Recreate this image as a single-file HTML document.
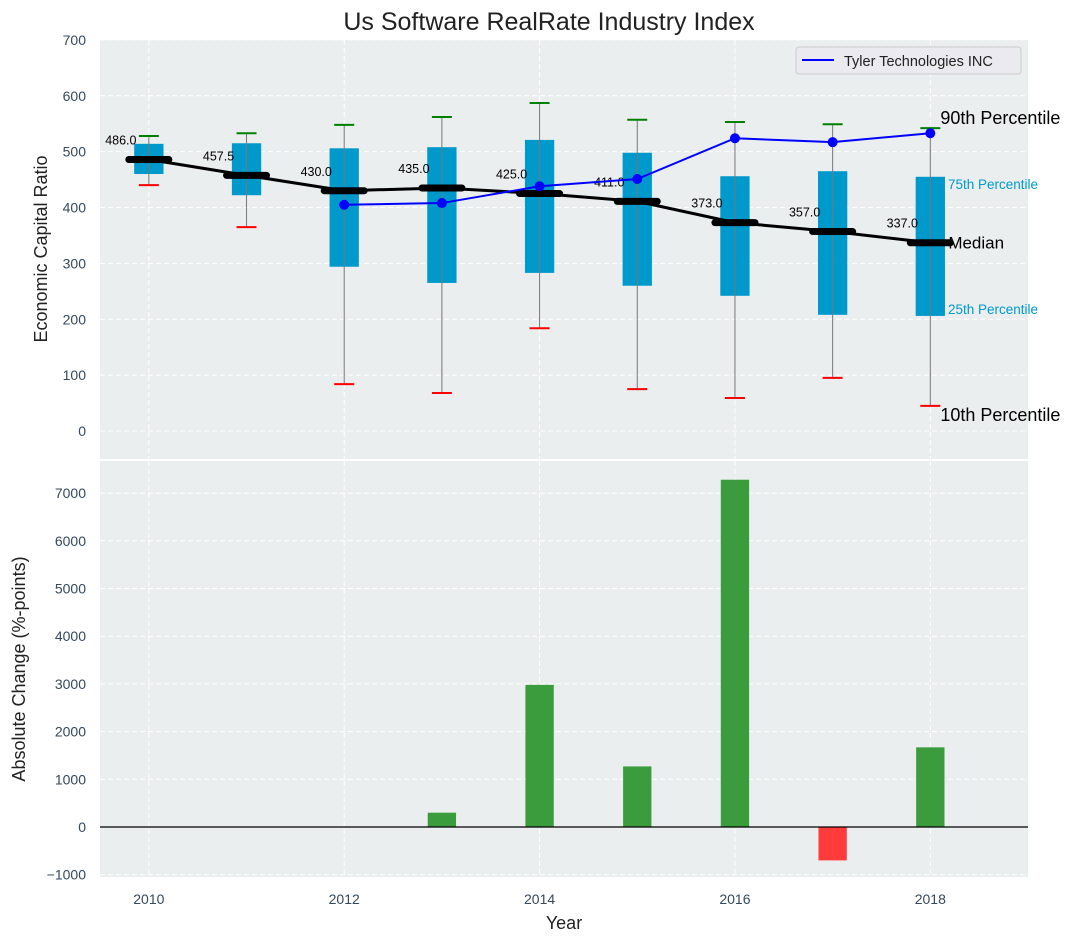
<!DOCTYPE html>
<html><head><meta charset="utf-8"><style>
body{margin:0;background:#fff;}
svg text{font-family:"Liberation Sans","DejaVu Sans",sans-serif;}
</style></head><body>
<svg id="chart" width="1077" height="942" xmlns="http://www.w3.org/2000/svg"></svg>
<script>
const years=[2010,2011,2012,2013,2014,2015,2016,2017,2018];
const p10=[440,365,84,68,184,75,59,95,45];
const p25=[460,422,294,265,283,260,242,208,206];
const median=[486,457.5,430,435,425,411,373,357,337];
const p75=[514,515,506,508,521,498,456,465,455];
const p90=[528,533,548,562,587,557,553,549,542];
const tylerYears=[2012,2013,2014,2015,2016,2017,2018];
const tylerVals=[405,408,438,451,524,517,533];
const changeYears=[2013,2014,2015,2016,2017,2018];
const changeVals=[300,2980,1270,7280,-700,1670];
const topTicks=[0,100,200,300,400,500,600,700];
const botTicks=[-1000,0,1000,2000,3000,4000,5000,6000,7000];
const xTicks=[2010,2012,2014,2016,2018];

const NS="http://www.w3.org/2000/svg";
const svg=document.getElementById('chart');
function mk(tag,attrs,parent,text){const e=document.createElementNS(NS,tag);for(const k in attrs)e.setAttribute(k,attrs[k]);if(text!==undefined)e.textContent=text;(parent||svg).appendChild(e);return e;}
const L=100,R=1028;
const x=v=>L+(v-2009.5)/(9.5)*(R-L);
const T1=40,B1=459; const y1=v=>431-v*0.5587;
const T2=461,B2=877; const y2=v=>827-v*0.0477;
const tickCol="#34495e";

let e;
e=mk('text',{x:549,y:30,'text-anchor':'middle','font-size':25,fill:'#222'},svg,'Us Software RealRate Industry Index');


e=mk('rect',{x:L,y:T1,width:R-L,height:B1-T1,fill:'#eaeeee'});

e=mk('rect',{x:L,y:T2,width:R-L,height:B2-T2,fill:'#eaeeee'});


topTicks.forEach(t=>{mk('line',{x1:L,x2:R,y1:y1(t),y2:y1(t),stroke:'#fff','stroke-dasharray':'5,3','stroke-width':1});
 e=mk('text',{x:L-14,y:y1(t)+5,'text-anchor':'end','font-size':14,fill:tickCol},svg,t);
 });
botTicks.forEach(t=>{mk('line',{x1:L,x2:R,y1:y2(t),y2:y2(t),stroke:'#fff','stroke-dasharray':'5,3','stroke-width':1});
 e=mk('text',{x:L-14,y:y2(t)+5,'text-anchor':'end','font-size':14,fill:tickCol},svg,t<0?'\u2212'+(-t):t);
 });
xTicks.forEach(t=>{mk('line',{x1:x(t),x2:x(t),y1:T1,y2:B1,stroke:'#fff','stroke-dasharray':'5,3'});
 mk('line',{x1:x(t),x2:x(t),y1:T2,y2:B2,stroke:'#fff','stroke-dasharray':'5,3'});
 e=mk('text',{x:x(t),y:904,'text-anchor':'middle','font-size':14,fill:tickCol},svg,t);
 });

e=mk('text',{x:47,y:249,'text-anchor':'middle','font-size':18,fill:'#222',transform:'rotate(-90 47 249)'},svg,'Economic Capital Ratio');

e=mk('text',{x:25,y:669,'text-anchor':'middle','font-size':18,fill:'#222',transform:'rotate(-90 25 669)'},svg,'Absolute Change (%-points)');

e=mk('text',{x:564,y:929,'text-anchor':'middle','font-size':18,fill:'#222'},svg,'Year');


const last=years.length-1, lx=x(years[last])+10;
e=mk('text',{x:lx,y:y1(p90[last])-4,'font-size':18,fill:'#000'},svg,'90th Percentile');

e=mk('text',{x:1038,y:y1(p75[last])+12,'text-anchor':'end','font-size':13.5,fill:'#0099cc'},svg,'75th Percentile');

e=mk('text',{x:1038,y:y1(p25[last])-2,'text-anchor':'end','font-size':13.5,fill:'#0099cc'},svg,'25th Percentile');

e=mk('text',{x:lx+8,y:y1(median[last])+6,'font-size':17,fill:'#000'},svg,'Median');

e=mk('text',{x:lx,y:y1(p10[last])+15,'font-size':18,fill:'#000'},svg,'10th Percentile');


const bw=0.3;
years.forEach((yr,i)=>{
 const cx=x(yr), w=bw/9.5*(R-L);
 e=mk('rect',{x:cx-w/2,y:y1(p75[i]),width:w,height:y1(p25[i])-y1(p75[i]),fill:'#0099cc'});
 
 e=mk('line',{x1:cx,x2:cx,y1:y1(p90[i]),y2:y1(p10[i]),stroke:'#777','stroke-width':1});
 
 e=mk('line',{x1:cx-10,x2:cx+10,y1:y1(p90[i]),y2:y1(p90[i]),stroke:'green','stroke-width':2});
 
 e=mk('line',{x1:cx-10,x2:cx+10,y1:y1(p10[i]),y2:y1(p10[i]),stroke:'red','stroke-width':2});
 
});
e=mk('polyline',{points:years.map((yr,i)=>x(yr)+','+y1(median[i])).join(' '),fill:'none',stroke:'#000','stroke-width':3});

years.forEach((yr,i)=>{
 const cx=x(yr);
 e=mk('line',{x1:cx-20,x2:cx+20,y1:y1(median[i]),y2:y1(median[i]),stroke:'#000','stroke-width':7,'stroke-linecap':'round'});
 
 e=mk('text',{x:cx-28,y:y1(median[i])-15,'text-anchor':'middle','font-size':12.5,fill:'#000'},svg,median[i].toFixed(1));
 
});
e=mk('polyline',{points:tylerYears.map((yr,i)=>x(yr)+','+y1(tylerVals[i])).join(' '),fill:'none',stroke:'#0000ff','stroke-width':2});

tylerYears.forEach((yr,i)=>{e=mk('circle',{cx:x(yr),cy:y1(tylerVals[i]),r:5,fill:'#0000ff'});
 });

const lg=mk('g',{});

mk('rect',{x:796,y:47,width:225,height:27,rx:3,fill:'#eaeaf0',stroke:'#ccc'},lg);
mk('line',{x1:802,x2:834,y1:60,y2:60,stroke:'#0000ff','stroke-width':2},lg);
e=mk('text',{x:844,y:66,'font-size':14.5,fill:'#222'},lg,'Tyler Technologies INC');


changeYears.forEach((yr,i)=>{
 const cx=x(yr), w=0.29/9.5*(R-L), v=changeVals[i];
 e=mk('rect',{x:cx-w/2,y:Math.min(y2(v),y2(0)),width:w,height:Math.abs(y2(v)-y2(0)),fill:v>=0?'#3a9c3c':'#ff3b3b'});
 
});
e=mk('line',{x1:L,x2:R,y1:y2(0),y2:y2(0),stroke:'#000','stroke-width':1.2});

</script>
</body></html>
